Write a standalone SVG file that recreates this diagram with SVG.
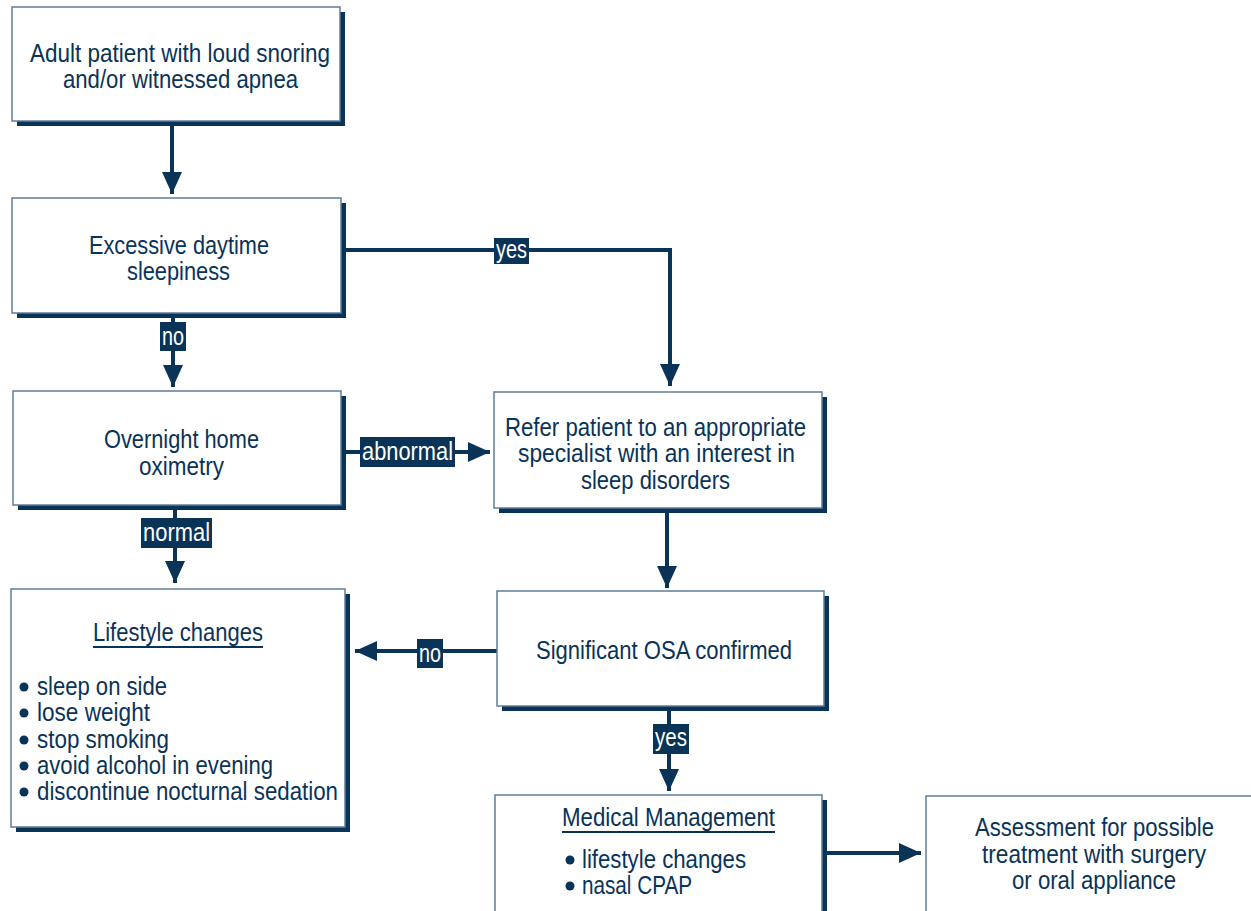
<svg xmlns="http://www.w3.org/2000/svg" width="1251" height="911" viewBox="0 0 1251 911">
<style>
.box{fill:#fff;stroke:#5f7c98;stroke-width:1.5}
.sh{fill:#0a3358}
.t{font-family:"Liberation Sans Narrow","Liberation Sans",Arial,sans-serif;font-size:25px;fill:#0a3358;text-anchor:middle}
.tl{font-family:"Liberation Sans Narrow","Liberation Sans",Arial,sans-serif;font-size:25px;fill:#0a3358}
.lb{fill:#0a3358}
.lt{font-family:"Liberation Sans Narrow","Liberation Sans",Arial,sans-serif;font-size:25px;fill:#fff;text-anchor:middle}
.c{fill:none;stroke:#0a3358;stroke-width:4;marker-end:url(#ah)}
.ul{stroke:#0a3358;stroke-width:2}
.bu{fill:#0a3358}
</style>
<defs>
<marker id="ah" markerUnits="userSpaceOnUse" markerWidth="22" markerHeight="20" refX="22" refY="10" orient="auto">
<path d="M0,0 L22,10 L0,20 z" fill="#0a3358"/>
</marker>
</defs>
<rect width="1251" height="911" fill="#fff"/>
<g id="connectors">
<path class="c" d="M172,126 V194"/>
<path class="c" d="M346,250 H670 V386"/>
<path class="c" d="M173,318 V387"/>
<path class="c" d="M346,452 H490"/>
<path class="c" d="M667,513 V588"/>
<path class="c" d="M497,651 H355"/>
<path class="c" d="M175,510 V583"/>
<path class="c" d="M669,711 V791"/>
<path class="c" d="M827,853 H921"/>
<rect class="lb" x="494" y="238" width="35" height="26"/>
<text class="lt" x="511.5" y="258" textLength="31" lengthAdjust="spacingAndGlyphs">yes</text>
<rect class="lb" x="160" y="322" width="26" height="29"/>
<text class="lt" x="173" y="345" textLength="22" lengthAdjust="spacingAndGlyphs">no</text>
<rect class="lb" x="360" y="437" width="95" height="30"/>
<text class="lt" x="407.5" y="460" textLength="91" lengthAdjust="spacingAndGlyphs">abnormal</text>
<rect class="lb" x="141" y="518" width="71" height="30"/>
<text class="lt" x="176.5" y="541" textLength="67" lengthAdjust="spacingAndGlyphs">normal</text>
<rect class="lb" x="417" y="639" width="26" height="29"/>
<text class="lt" x="430" y="662" textLength="22" lengthAdjust="spacingAndGlyphs">no</text>
<rect class="lb" x="653" y="724" width="36" height="30"/>
<text class="lt" x="671" y="746" textLength="32" lengthAdjust="spacingAndGlyphs">yes</text>
</g>
<g id="n1">
<rect class="sh" x="17" y="12" width="328" height="114"/>
<rect class="box" x="12" y="7" width="328" height="114"/>
<text class="t" x="180" y="62" textLength="300" lengthAdjust="spacingAndGlyphs">Adult patient with loud snoring</text>
<text class="t" x="180.5" y="88" textLength="235" lengthAdjust="spacingAndGlyphs">and/or witnessed apnea</text>
</g>
<g id="n2">
<rect class="sh" x="17" y="203" width="329" height="115"/>
<rect class="box" x="12" y="198" width="329" height="115"/>
<text class="t" x="179" y="254" textLength="180" lengthAdjust="spacingAndGlyphs">Excessive daytime</text>
<text class="t" x="178.5" y="280" textLength="103" lengthAdjust="spacingAndGlyphs">sleepiness</text>
</g>
<g id="n3">
<rect class="sh" x="18" y="396" width="328" height="114"/>
<rect class="box" x="13" y="391" width="328" height="114"/>
<text class="t" x="181.5" y="448" textLength="155" lengthAdjust="spacingAndGlyphs">Overnight home</text>
<text class="t" x="181.5" y="475" textLength="85" lengthAdjust="spacingAndGlyphs">oximetry</text>
</g>
<g id="n4">
<rect class="sh" x="499" y="397" width="328" height="116"/>
<rect class="box" x="494" y="392" width="328" height="116"/>
<text class="t" x="655.5" y="436" textLength="301" lengthAdjust="spacingAndGlyphs">Refer patient to an appropriate</text>
<text class="t" x="656.5" y="462" textLength="277" lengthAdjust="spacingAndGlyphs">specialist with an interest in</text>
<text class="t" x="655.5" y="489" textLength="149" lengthAdjust="spacingAndGlyphs">sleep disorders</text>
</g>
<g id="n5">
<rect class="sh" x="502" y="596" width="327" height="115"/>
<rect class="box" x="497" y="591" width="327" height="115"/>
<text class="t" x="664" y="659" textLength="256" lengthAdjust="spacingAndGlyphs">Significant OSA confirmed</text>
</g>
<g id="n6">
<rect class="sh" x="16" y="594" width="334" height="238"/>
<rect class="box" x="11" y="589" width="334" height="238"/>
<text class="t" x="178" y="641" textLength="170" lengthAdjust="spacingAndGlyphs">Lifestyle changes</text>
<line class="ul" x1="93" y1="647" x2="263" y2="647"/>
<circle class="bu" cx="24" cy="687" r="4.5"/>
<circle class="bu" cx="24" cy="713" r="4.5"/>
<circle class="bu" cx="24" cy="740" r="4.5"/>
<circle class="bu" cx="24" cy="766" r="4.5"/>
<circle class="bu" cx="24" cy="792" r="4.5"/>
<text class="tl" x="37" y="695" textLength="130" lengthAdjust="spacingAndGlyphs">sleep on side</text>
<text class="tl" x="37" y="721" textLength="113" lengthAdjust="spacingAndGlyphs">lose weight</text>
<text class="tl" x="37" y="748" textLength="132" lengthAdjust="spacingAndGlyphs">stop smoking</text>
<text class="tl" x="37" y="774" textLength="236" lengthAdjust="spacingAndGlyphs">avoid alcohol in evening</text>
<text class="tl" x="37" y="800" textLength="301" lengthAdjust="spacingAndGlyphs">discontinue nocturnal sedation</text>
</g>
<g id="n7">
<rect class="sh" x="500" y="800" width="327" height="130"/>
<rect class="box" x="495" y="795" width="327" height="130"/>
<text class="t" x="668.5" y="826" textLength="213" lengthAdjust="spacingAndGlyphs">Medical Management</text>
<line class="ul" x1="562" y1="832" x2="775" y2="832"/>
<circle class="bu" cx="570" cy="860" r="4.5"/>
<circle class="bu" cx="570" cy="886" r="4.5"/>
<text class="tl" x="582" y="868" textLength="164" lengthAdjust="spacingAndGlyphs">lifestyle changes</text>
<text class="tl" x="582" y="894" textLength="110" lengthAdjust="spacingAndGlyphs">nasal CPAP</text>
</g>
<g id="n8">
<rect class="box" x="926" y="796" width="340" height="130"/>
<text class="t" x="1094.5" y="836" textLength="239" lengthAdjust="spacingAndGlyphs">Assessment for possible</text>
<text class="t" x="1094" y="863" textLength="224" lengthAdjust="spacingAndGlyphs">treatment with surgery</text>
<text class="t" x="1094" y="889" textLength="164" lengthAdjust="spacingAndGlyphs">or oral appliance</text>
</g>
</svg>
